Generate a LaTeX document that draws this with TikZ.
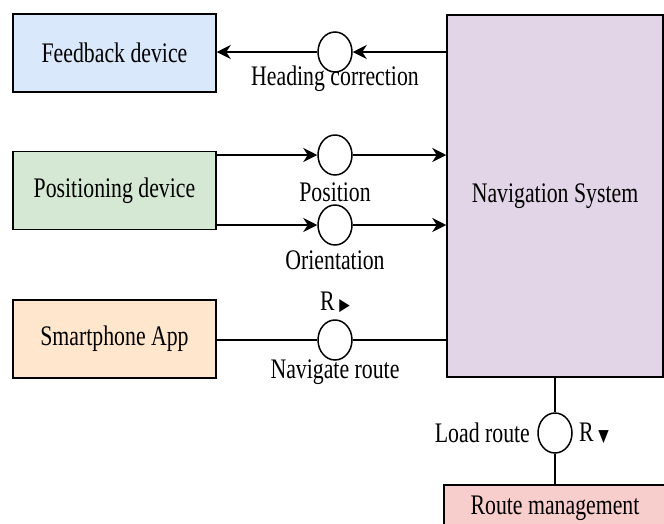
\documentclass[tikz,border=0pt]{standalone}
\usepackage{fontspec}
\setmainfont[FakeStretch=0.77]{Liberation Serif}
\newfontfamily\symfont[FakeStretch=0.8]{DejaVu Sans}
\usetikzlibrary{shapes.geometric,arrows.meta}
\definecolor{fbblue}{HTML}{DAE8FC}
\definecolor{posgreen}{HTML}{D5E8D4}
\definecolor{apporange}{HTML}{FFE6CC}
\definecolor{navpurple}{HTML}{E1D5E7}
\definecolor{routered}{HTML}{F8CECC}
\tikzset{
  block/.style={draw,line width=1.5pt,minimum width=203pt,minimum height=78pt,inner sep=0pt},
  port/.style={draw,ellipse,fill=white,line width=1.5pt,minimum width=34pt,minimum height=40pt,inner sep=0pt}
}
\newcommand{\dirmark}[1]{{\symfont\fontsize{17}{17}\selectfont #1}}
\begin{document}
\begin{tikzpicture}[x=1pt,y=-1pt,line width=1.5pt,>={Stealth[length=14pt,width=14pt,inset=4.5pt]},font=\fontsize{28.3}{32}\selectfont]
                \useasboundingbox (0,0) rectangle (664,523);
                % blocks
                \node[block,fill=fbblue] (feedback) at (114.5,53) {Feedback device};
                \node[block,fill=posgreen] (posdev) at (114.5,190.5) {Positioning device};
                \node[block,fill=apporange] (app) at (114.5,339) {Smartphone App};
                \node[block,fill=navpurple,minimum width=216pt,minimum height=362pt] (nav) at (555,196) {Navigation System};
                \node[block,fill=routered,minimum width=222pt,minimum height=46pt] (route) at (555,508) {Route management};
                % interfaces
                \node[port] (heading) at (335,52) {};
                \node[port] (pos) at (335,155) {};
                \node[port] (orient) at (335,225) {};
                \node[port] (navroute) at (335,340) {};
                \node[port] (load) at (555,433) {};
                \draw[->] (nav.west |- heading) -- (heading);
                \draw[->] (heading) -- (feedback.east |- heading);
                \draw[->] (posdev.east |- pos) -- (pos);
                \draw[->] (pos) -- (nav.west |- pos);
                \draw[->] (posdev.east |- orient) -- (orient);
                \draw[->] (orient) -- (nav.west |- orient);
                \draw (app.east |- navroute) -- (navroute) -- (nav.west |- navroute);
                \draw (nav.south) -- (load) -- (route.north);
                % labels
                \node (hclabel) at (335,79) {Heading correction};
                \node (poslabel) at (335,192) {Position};
                \node (orlabel) at (335,260) {Orientation};
                \node (nrlabel) at (335,372) {Navigate route};
                \node (nrdir) at (335,302) {R\,\dirmark{▶}};
                \node[anchor=east] (lrlabel) at (534,433) {Load route};
                \node[anchor=west] (lrdir) at (575,433) {R\,\dirmark{▼}};
            \end{tikzpicture}
\end{document}
